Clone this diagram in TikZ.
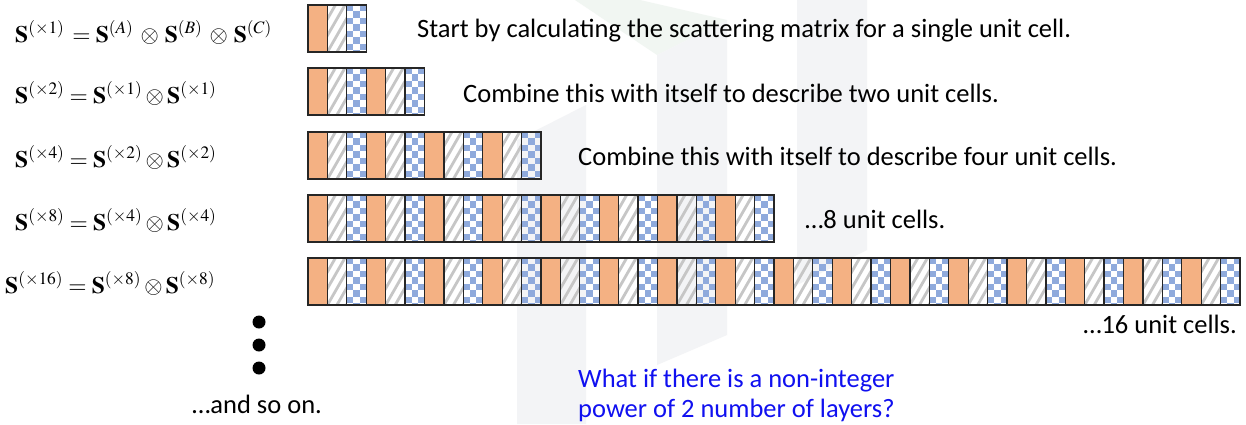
\documentclass[tikz,border=0pt]{standalone}
\usepackage{mathptmx}
\usepackage[no-math]{fontspec}
\setmainfont{Carlito}
\definecolor{orng}{HTML}{F4B183}
\definecolor{chk}{HTML}{8FAADC}
\definecolor{htch}{HTML}{C6C6C6}
\definecolor{wm}{HTML}{F3F4F6}
\definecolor{wmg}{HTML}{F1F6F2}
\definecolor{qblue}{HTML}{1010F0}
\newcommand\cellw{19.4167}
\newcommand\cellh{47}
\newcommand\layerrow[2]{%
  \foreach \i in {1,...,#2}{%
    \pgfmathsetmacro\xa{308+(\i-1)*\cellw}%
    \pgfmathtruncatemacro\ctype{mod(\i-1,3)}%
    \ifcase\ctype
      \fill[orng] (\xa,#1) rectangle ++(\cellw,\cellh);
    \or
      \begin{scope}
        \clip (\xa,#1) rectangle ++(\cellw,\cellh);
        \foreach \k in {-4,...,3}{\draw[hatchline] (\xa+\k*9.5,#1+\cellh) -- ++(27,-\cellh);}
      \end{scope}
    \or
      \begin{scope}
        \clip (\xa,#1) rectangle ++(\cellw,\cellh);
        \foreach \r in {0,...,7}{\foreach \c in {0,1,2}{%
          \pgfmathtruncatemacro\parity{mod(\r+\c,2)}%
          \ifnum\parity=0 \fill[chk] (\xa+\c*\cellw/3,#1+\r*\cellw/3) rectangle ++(\cellw/3,\cellw/3);\fi}}
      \end{scope}
    \fi
    \draw[cellborder] (\xa,#1) rectangle ++(\cellw,\cellh);
  }%
}
\begin{document}
\begin{tikzpicture}[x=1pt,y=-1pt,
  hatchline/.style={htch,line width=2.8pt},
  cellborder/.style={draw=black!85,line width=1.3pt},
  eqn/.style={anchor=base west,inner sep=0pt,font=\fontsize{23.5}{28}\selectfont},
  txt/.style={anchor=base west,inner sep=0pt,font=\fontsize{26.5}{32}\selectfont},
  qtxt/.style={txt,text=qblue},
  dot/.style={fill=black,circle,inner sep=0pt,minimum size=13pt}]
\useasboundingbox (0,0) rectangle (1246,424);
\fill[white] (0,0) rectangle (1246,424);
% faint watermark
\fill[wmg] (575,0) -- (640,0) -- (727,20) -- (657,55) -- cycle;
\fill[wm] (517,140) -- (586,105) -- (586,424) -- (517,424) -- cycle;
\fill[wm] (657,55) -- (727,20) -- (727,335) -- (657,365) -- cycle;
\fill[wm] (797,0) -- (867,0) -- (867,250) -- (797,285) -- cycle;
% layers
\layerrow{5}{3}
\layerrow{68}{6}
\layerrow{132}{12}
\layerrow{195}{24}
\layerrow{258}{48}
% equations
\node[eqn] (eq1) at (15,42) {$\mathbf{S}^{(\times1)}\mkern2mu=\mathbf{S}^{(A)}\mkern3mu\otimes\mkern2mu\mathbf{S}^{(B)}\mkern3mu\otimes\mkern2mu\mathbf{S}^{(C)}$};
\node[eqn] (eq2) at (15,103) {$\mathbf{S}^{(\times2)}=\mathbf{S}^{(\times1)}\otimes\mathbf{S}^{(\times1)}$};
\node[eqn] (eq3) at (15,167) {$\mathbf{S}^{(\times4)}=\mathbf{S}^{(\times2)}\otimes\mathbf{S}^{(\times2)}$};
\node[eqn] (eq4) at (15,230) {$\mathbf{S}^{(\times8)}=\mathbf{S}^{(\times4)}\otimes\mathbf{S}^{(\times4)}$};
\node[eqn] (eq5) at (5,293) {$\mathbf{S}^{(\times16)}=\mathbf{S}^{(\times8)}\otimes\mathbf{S}^{(\times8)}$};
% descriptions
\node[txt] (t1) at (417,37) {Start by calculating the scattering matrix for a single unit cell.};
\node[txt] (t2) at (463,102) {Combine this with itself to describe two unit cells.};
\node[txt] (t3) at (578,165) {Combine this with itself to describe four unit cells.};
\node[txt] (t4) at (805,228) {…8 unit cells.};
\node[txt,anchor=base east] (t5) at (1237,333) {…16 unit cells.};
% dots
\node[dot] (d1) at (259,322) {};
\node[dot] (d2) at (259,345) {};
\node[dot] (d3) at (259,368) {};
\node[txt] (so) at (192,413) {…and so on.};
\node[qtxt] (q1) at (578,387) {What if there is a non-integer};
\node[qtxt] (q2) at (578,417) {power of 2 number of layers?};
\end{tikzpicture}
\end{document}
